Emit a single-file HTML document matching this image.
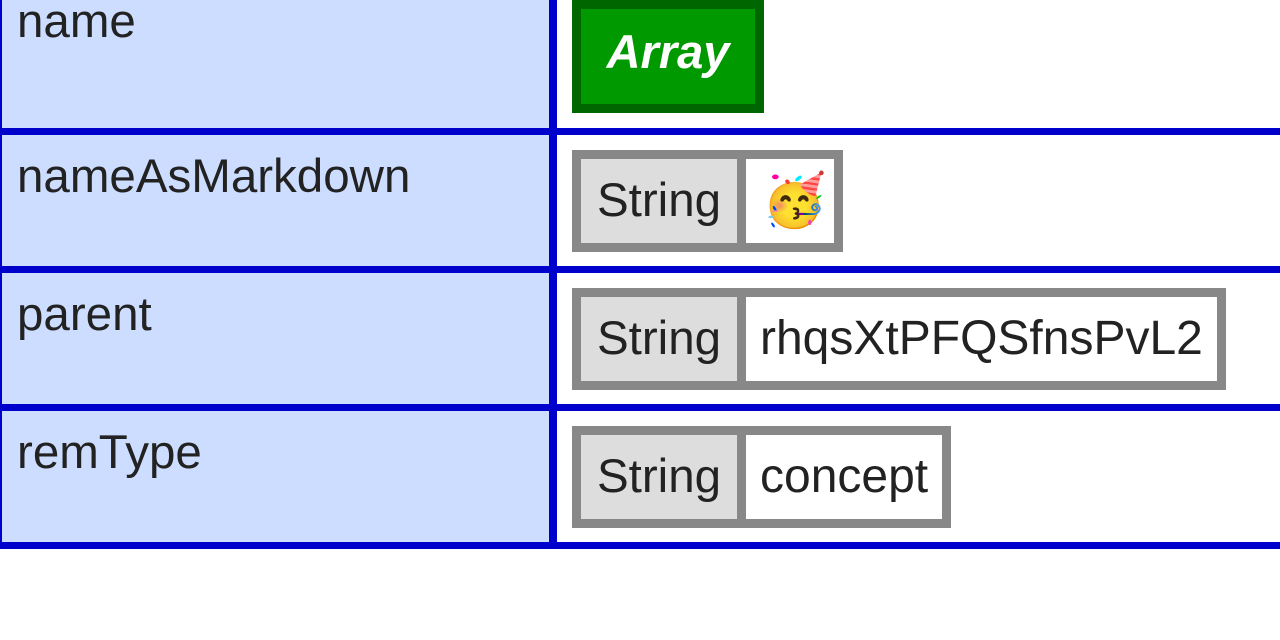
<!DOCTYPE html>
<html><head><meta charset="utf-8"><style>
html,body{margin:0;padding:0;width:1280px;height:640px;overflow:hidden;background:#fff;position:relative;font-family:"Liberation Sans",sans-serif}
div{position:absolute;box-sizing:border-box}
.lb{background:#ccddff}
.bl{background:#0000cc}
.lab{left:17px;font-size:47.5px;line-height:46px;color:#222;white-space:nowrap}
.box{left:572px;height:102px;background:#888}
.s{top:9px;left:9px;width:156px;height:84px;background:#ddd;font-size:47.5px;line-height:84px;color:#222;text-align:center}
.v{top:9px;left:174px;height:84px;background:#fff;font-size:48px;line-height:84px;color:#222;padding-left:14px;white-space:nowrap}
</style></head><body>
<div class="lb" style="left:0;top:0;width:549px;height:542px"></div>
<div class="bl" style="left:0;top:0;width:2px;height:549px"></div>
<div class="bl" style="left:549px;top:0;width:8px;height:549px"></div>
<div class="bl" style="left:0;top:128px;width:1280px;height:7px"></div>
<div class="bl" style="left:0;top:266px;width:1280px;height:7px"></div>
<div class="bl" style="left:0;top:404px;width:1280px;height:7px"></div>
<div class="bl" style="left:0;top:542px;width:1280px;height:7px"></div>

<div class="lab" style="top:-1px">name</div>
<div class="lab" style="top:154px">nameAsMarkdown</div>
<div class="lab" style="top:292px">parent</div>
<div class="lab" style="top:430px">remType</div>

<div style="left:572px;top:0;width:192px;height:113px;background:#009900;border:9px solid #006600;color:#fff;font-weight:bold;font-style:italic;font-size:47px;text-align:center;line-height:85px">Array</div>

<div class="box" style="top:150px;width:271px"><div class="s">String</div><div class="v" style="width:88px;padding-left:16px;font-family:'Noto Color Emoji','DejaVu Sans',sans-serif;font-size:52px">🥳</div></div>
<div class="box" style="top:288px;width:654px"><div class="s">String</div><div class="v" style="width:471px">rhqsXtPFQSfnsPvL2</div></div>
<div class="box" style="top:426px;width:379px"><div class="s">String</div><div class="v" style="width:196px">concept</div></div>
</body></html>
